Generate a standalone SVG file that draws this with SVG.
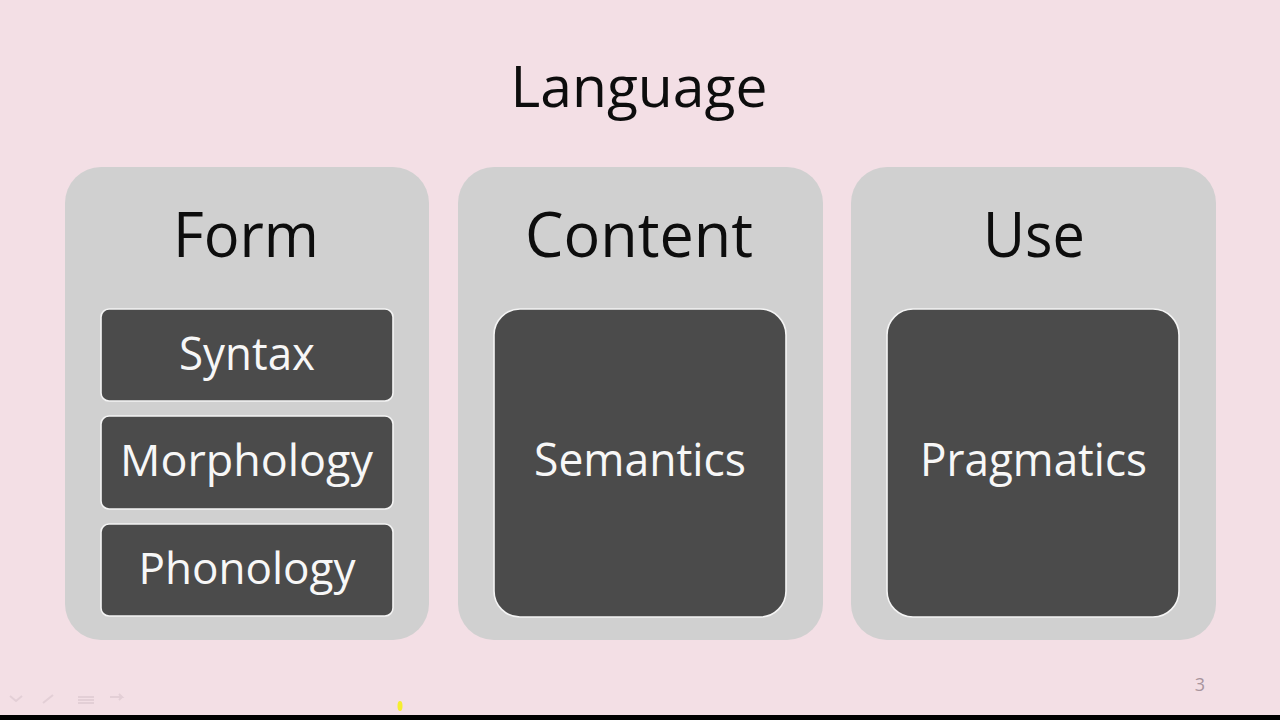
<svg xmlns="http://www.w3.org/2000/svg" width="1280" height="720" viewBox="0 0 1280 720">
  <style>
    .outer { fill: #d0d0d0; }
    .inner { fill: #4b4b4b; stroke: #f4f4f4; stroke-width: 1.6; }
    .head { font-family: "Open Sans", "Noto Sans", sans-serif; fill: #0d0d0d; text-anchor: middle; }
    .lbl { font-family: "Open Sans", "Noto Sans", sans-serif; fill: #f7f7f7; text-anchor: middle; }
    .ico { fill: none; stroke: #e3cfd6; stroke-width: 2; }
  </style>
  <rect x="0" y="0" width="1280" height="720" fill="#f3dfe5"/>

  <text class="head" x="639" y="107" font-size="57" textLength="257" lengthAdjust="spacingAndGlyphs">Language</text>

  <g id="form">
    <rect class="outer" x="65" y="167" width="364" height="473" rx="36"/>
    <text class="head" x="246" y="257" font-size="63" textLength="146" lengthAdjust="spacingAndGlyphs">Form</text>
    <g id="syntax">
      <rect class="inner" x="101" y="309" width="292" height="92" rx="8"/>
      <text class="lbl" x="247" y="370" font-size="46" textLength="136" lengthAdjust="spacingAndGlyphs">Syntax</text>
    </g>
    <g id="morphology">
      <rect class="inner" x="101" y="416" width="292" height="93" rx="8"/>
      <text class="lbl" x="246.5" y="476" font-size="44" textLength="253" lengthAdjust="spacingAndGlyphs">Morphology</text>
    </g>
    <g id="phonology">
      <rect class="inner" x="101" y="524" width="292" height="92" rx="8"/>
      <text class="lbl" x="247" y="584" font-size="44" textLength="217" lengthAdjust="spacingAndGlyphs">Phonology</text>
    </g>
  </g>

  <g id="content">
    <rect class="outer" x="458" y="167" width="365" height="473" rx="36"/>
    <text class="head" x="639" y="257" font-size="63" textLength="228" lengthAdjust="spacingAndGlyphs">Content</text>
    <g id="semantics">
      <rect class="inner" x="494" y="309" width="292" height="308" rx="26"/>
      <text class="lbl" x="640" y="476" font-size="45" textLength="212" lengthAdjust="spacingAndGlyphs">Semantics</text>
    </g>
  </g>

  <g id="use">
    <rect class="outer" x="851" y="167" width="365" height="473" rx="36"/>
    <text class="head" x="1034" y="257" font-size="63" textLength="102" lengthAdjust="spacingAndGlyphs">Use</text>
    <g id="pragmatics">
      <rect class="inner" x="887" y="309" width="292" height="308" rx="26"/>
      <text class="lbl" x="1033.5" y="476" font-size="45" textLength="227" lengthAdjust="spacingAndGlyphs">Pragmatics</text>
    </g>
  </g>

  <g id="connectors"></g>

  <text x="1200" y="691" font-family="Open Sans, Noto Sans, sans-serif" font-size="18" fill="#a8959d" text-anchor="middle">3</text>

  <g id="toolbar">
    <path class="ico" d="M10 696 L16 701 L22 696"/>
    <path class="ico" d="M43 703 L53 695"/>
    <path class="ico" d="M78 697 H94 M78 700 H94 M78 703 H94"/>
    <path class="ico" d="M110 697 H122 L119 694 M122 697 L119 700"/>
  </g>
  <ellipse cx="400" cy="706" rx="2.5" ry="5" fill="#f5ee30"/>
  <rect x="0" y="715" width="1280" height="5" fill="#000"/>
</svg>
